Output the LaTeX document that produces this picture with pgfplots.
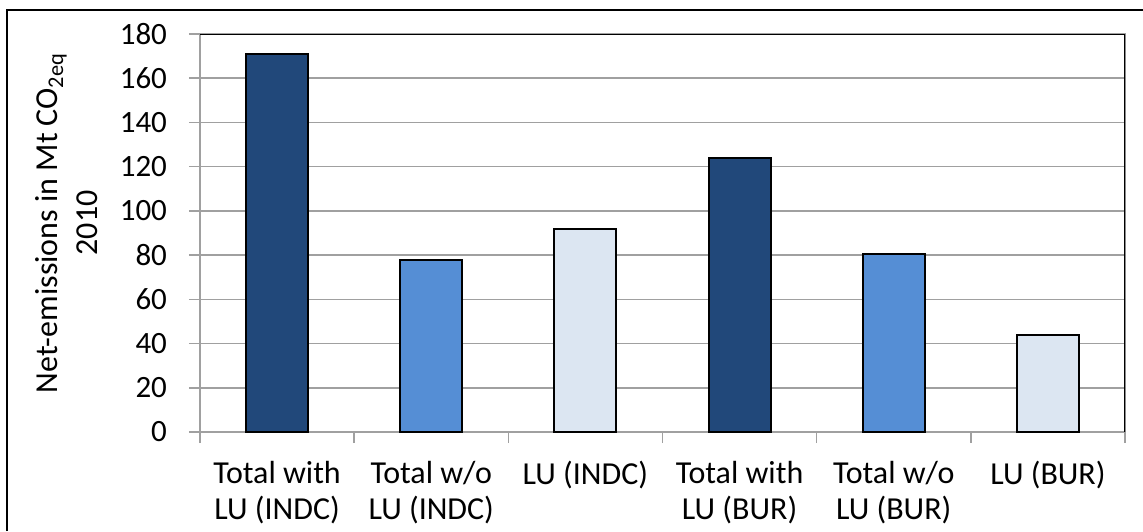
\documentclass[border=0pt]{standalone}
\usepackage{pgfplots}
\pgfplotsset{compat=1.18}
\usepackage{fontspec}
\setmainfont{Carlito}
\definecolor{darkblue}{RGB}{33,72,122}
\definecolor{midblue}{RGB}{85,142,213}
\definecolor{lightblue}{RGB}{220,230,242}
\definecolor{gridgray}{RGB}{160,160,160}
\begin{document}
\begin{tikzpicture}
\useasboundingbox (-100pt,-49.5pt) rectangle (471.5pt,216pt);
\draw[line width=0.8pt] (-96.5pt,-49.5pt) -- (-96.5pt,211pt) -- (471.5pt,211pt);
\begin{axis}[
    at={(0,0)}, anchor=south west,
    width=462.5pt, height=199pt, scale only axis,
    ybar=0pt, bar width=31pt,
    xmin=-0.5, xmax=5.5, ymin=0, ymax=180,
    ytick distance=20,
    xtick={0,...,5},
    xticklabels={{Total with\\LU (INDC)},{Total w/o\\LU (INDC)},{LU (INDC)},{Total with\\LU (BUR)},{Total w/o\\LU (BUR)},{LU (BUR)}},
    xtick style={draw=none},
    extra x ticks={-0.5,0.5,...,5.5},
    extra x tick labels={},
    extra x tick style={xtick style={draw=gridgray, line width=0.75pt}},
    ytick style={draw=gridgray, line width=0.75pt},
    xtick pos=bottom, ytick pos=left,
    major tick length=5.5pt, tick align=outside,
    ymajorgrids=true,
    grid style={gridgray, line width=0.75pt},
    axis line style={gridgray, line width=0.75pt},
    tick label style={font=\fontsize{15.5}{18}\selectfont},
    yticklabel style={xshift=-7.5pt},
    /pgf/number format/assume math mode=true,
    xticklabel style={font=\fontsize{16}{18}\selectfont, align=center, yshift=-5.5pt},
    ylabel={Net-emissions in Mt CO\textsubscript{2eq}\\2010},
    ylabel style={font=\fontsize{16}{20}\selectfont, align=center,
        at={(axis description cs:0,0.5)}, anchor=center, yshift=66.5pt, xshift=5pt},
]
\addplot[fill=darkblue, draw=black, line width=1pt, bar shift=0pt] coordinates {(0,171) (3,124)};
\addplot[fill=midblue, draw=black, line width=1pt, bar shift=0pt] coordinates {(1,77.8) (4,80.5)};
\addplot[fill=lightblue, draw=black, line width=1pt, bar shift=0pt] coordinates {(2,92) (5,43.7)};
\draw[black, line width=0.9pt] (rel axis cs:0,1) -- (rel axis cs:1,1) -- (rel axis cs:1,0);
\end{axis}
\end{tikzpicture}
\end{document}
